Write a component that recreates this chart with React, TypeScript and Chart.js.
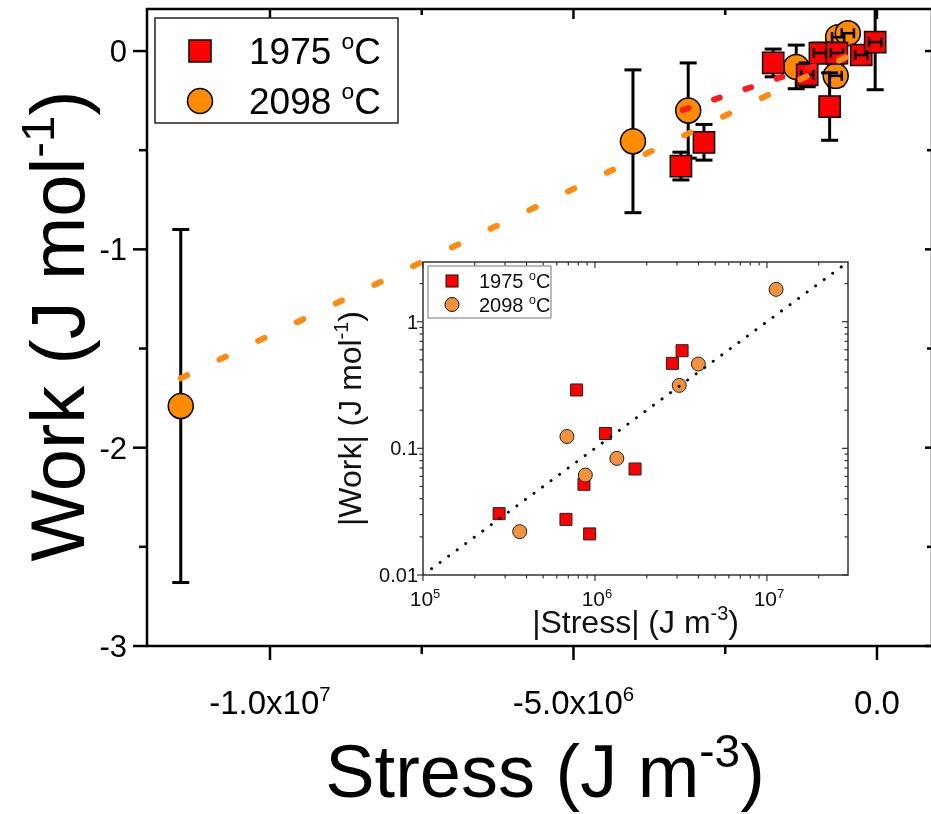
import React, { useEffect, useRef } from 'react';
import { Chart, registerables } from 'chart.js';
Chart.register(...registerables);

const FONT = '"Liberation Sans", Arial, Helvetica, sans-serif';

// ---------- main plot data ----------
const red1975Stress = [-3.23e6, -2.85e6, -1.71e6, -1.15e6, -0.94e6, -0.66e6, -0.78e6, -0.26e6, -0.03e6];
const red1975Work = [-0.58, -0.46, -0.06, -0.12, -0.01, -0.01, -0.28, -0.02, 0.045];
const red1975ErrY = [0.07, 0.09, 0.07, 0.06, 0.05, 0.05, 0.17, 0.04, 0.24];
const red1975ErrX = [0, 0, 0, 0.1e6, 0.1e6, 0.1e6, 0, 0.1e6, 0.1e6];

const orange2098Stress = [-1.147e7, -4.02e6, -3.11e6, -1.33e6, -0.68e6, -0.64e6, -0.48e6];
const orange2098Work = [-1.79, -0.455, -0.3, -0.08, -0.125, 0.07, 0.09];
const orange2098ErrY = [0.89, 0.36, 0.24, 0.11, 0.05, 0.04, 0.04];
const orange2098ErrX = [0, 0, 0, 0, 0.1e6, 0.1e6, 0.1e6];

// linear fits (end points)
const fit2098Stress = [-1.147e7, -0.35e6];
const fit2098Work = [-1.65, -0.008];
const fit1975Stress = [-3.2e6, -0.35e6];
const fit1975Work = [-0.297, -0.007];

const mainXMin = -1.2026e7;
const mainXMax = 0.89e6;
const mainYMin = -3;
const mainYMax = 0.212;
const mainXTicks = [-1e7, -5e6, 0];
const mainXTickText = [['-1.0x10', '7'], ['-5.0x10', '6'], ['0.0', '']];
const mainXMinor = [-7.5e6, -2.5e6];
const mainYTicks = [0, -1, -2, -3];
const mainYTickText = ['0', '-1', '-2', '-3'];
const mainYMinor = [-0.5, -1.5, -2.5];
const seriesNames = ['1975 ', '2098 '];

// ---------- inset data ----------
const insetRedStress = [3.21e6, 2.82e6, 7.82e5, 1.15e6, 1.71e6, 8.63e5, 2.77e5, 6.78e5, 9.31e5];
const insetRedWork = [0.59, 0.469, 0.289, 0.131, 0.0687, 0.052, 0.0305, 0.0275, 0.0211];
const insetOrangeStress = [1.13e7, 3.99e6, 3.09e6, 6.87e5, 1.34e6, 8.79e5, 3.65e5];
const insetOrangeWork = [1.8, 0.463, 0.314, 0.124, 0.0833, 0.0615, 0.022];
const insetFitStress = [1e5, 2.96e7];
const insetFitWork = [0.01, 2.96];
const insetXMin = 1e5;
const insetXMax = 2.96e7;
const insetYMin = 0.01;
const insetYMax = 2.96;
const insetXTicks = [1e5, 1e6, 1e7];
const insetXTickExp = ['5', '6', '7'];
const insetYTicks = [0.01, 0.1, 1];
const insetYTickText = ['0.01', '0.1', '1'];

const RED = '#FF0000';
const ORANGE = '#FF8C00';
const ORANGE_INSET = '#F3923C';
const FIT_ORANGE = '#FF8A10';
const FIT_RED = '#FF1A1A';

type Part = { t: string; sup?: boolean };

function richWidth(ctx: CanvasRenderingContext2D, parts: Part[], size: number) {
  let w = 0;
  for (const p of parts) {
    ctx.font = `${p.sup ? size * 0.62 : size}px ${FONT}`;
    w += ctx.measureText(p.t).width;
  }
  return w;
}

function drawRich(
  ctx: CanvasRenderingContext2D,
  parts: Part[],
  x: number,
  y: number,
  size: number,
  align: 'left' | 'center' | 'right',
  color = '#000'
) {
  const w = richWidth(ctx, parts, size);
  let cx = align === 'left' ? x : align === 'center' ? x - w / 2 : x - w;
  ctx.textBaseline = 'alphabetic';
  ctx.textAlign = 'left';
  ctx.fillStyle = color;
  for (const p of parts) {
    const s = p.sup ? size * 0.62 : size;
    ctx.font = `${s}px ${FONT}`;
    ctx.fillText(p.t, cx, p.sup ? y - size * 0.4 : y);
    cx += ctx.measureText(p.t).width;
  }
}

function line(ctx: CanvasRenderingContext2D, x1: number, y1: number, x2: number, y2: number) {
  ctx.beginPath();
  ctx.moveTo(x1, y1);
  ctx.lineTo(x2, y2);
  ctx.stroke();
}

const errorBarPlugin = {
  id: 'errorBars',
  beforeDatasetDraw(chart: any, args: any) {
    const ds: any = chart.data.datasets[args.index];
    if (!ds.errY) return;
    const { ctx, chartArea: a, scales } = chart;
    ctx.save();
    ctx.beginPath();
    ctx.rect(a.left, a.top, a.right - a.left, a.bottom - a.top);
    ctx.clip();
    ctx.strokeStyle = '#000';
    ctx.lineWidth = 3;
    const cap = 8.5;
    ds.data.forEach((p: any, i: number) => {
      const ey = ds.errY[i] || 0;
      if (ey <= 0) return;
      const px = scales.x.getPixelForValue(p.x);
      const t = scales.y.getPixelForValue(p.y + ey);
      const b = scales.y.getPixelForValue(p.y - ey);
      line(ctx, px, t, px, b);
      line(ctx, px - cap, t, px + cap, t);
      line(ctx, px - cap, b, px + cap, b);
    });
    ctx.restore();
  },
  afterDatasetDraw(chart: any, args: any) {
    const ds: any = chart.data.datasets[args.index];
    if (!ds.errX) return;
    const { ctx, chartArea: a, scales } = chart;
    ctx.save();
    ctx.beginPath();
    ctx.rect(a.left, a.top, a.right - a.left, a.bottom - a.top);
    ctx.clip();
    ctx.strokeStyle = '#000';
    ctx.lineWidth = 2.5;
    const cap = 5;
    ds.data.forEach((p: any, i: number) => {
      const ex = ds.errX[i] || 0;
      if (ex <= 0) return;
      const py = scales.y.getPixelForValue(p.y);
      const l = scales.x.getPixelForValue(p.x - ex);
      const r = scales.x.getPixelForValue(p.x + ex);
      line(ctx, l, py, r, py);
      line(ctx, l, py - cap, l, py + cap);
      line(ctx, r, py - cap, r, py + cap);
    });
    ctx.restore();
  },
};

const mainDecor = {
  id: 'mainDecor',
  afterDraw(chart: any) {
    const { ctx, chartArea: a, scales } = chart;
    const xs = scales.x;
    const ys = scales.y;
    ctx.save();
    ctx.strokeStyle = '#000';
    ctx.lineWidth = 2.5;
    ctx.lineCap = 'butt';
    // frame
    ctx.strokeRect(a.left, a.top, a.right + 1 - a.left, a.bottom - a.top);
    // x ticks
    mainXTicks.forEach((v, i) => {
      const px = xs.getPixelForValue(v);
      line(ctx, px, a.bottom, px, a.bottom + 14);
      line(ctx, px, a.top, px, a.top + 10);
      const [base, exp] = mainXTickText[i];
      drawRich(ctx, exp ? [{ t: base }, { t: exp, sup: true }] : [{ t: base }], px, 714, 33, 'center');
    });
    mainXMinor.forEach((v) => {
      const px = xs.getPixelForValue(v);
      line(ctx, px, a.bottom, px, a.bottom + 8);
      line(ctx, px, a.top, px, a.top + 6);
    });
    // y ticks
    mainYTicks.forEach((v, i) => {
      const py = ys.getPixelForValue(v);
      line(ctx, a.left, py, a.left - 14, py);
      line(ctx, a.right, py, a.right - 6, py);
      drawRich(ctx, [{ t: mainYTickText[i] }], a.left - 20, py + 11, 31, 'right');
    });
    mainYMinor.forEach((v) => {
      const py = ys.getPixelForValue(v);
      line(ctx, a.left, py, a.left - 8, py);
      line(ctx, a.right, py, a.right - 4, py);
    });
    // axis titles
    drawRich(ctx, [{ t: 'Stress (J m' }, { t: '-3', sup: true }, { t: ')' }], 545, 797, 74, 'center');
    ctx.save();
    ctx.translate(84, 326);
    ctx.rotate(-Math.PI / 2);
    drawRich(ctx, [{ t: 'Work (J mol' }, { t: '-1', sup: true }, { t: ')' }], 0, 0, 76, 'center');
    ctx.restore();
    // legend
    ctx.fillStyle = '#fff';
    ctx.fillRect(155, 18, 243, 105);
    ctx.lineWidth = 1.5;
    ctx.strokeStyle = '#222';
    ctx.strokeRect(155, 18, 243, 105);
    ctx.fillStyle = RED;
    ctx.fillRect(189, 40, 22, 22);
    ctx.strokeStyle = '#000';
    ctx.strokeRect(189, 40, 22, 22);
    ctx.beginPath();
    ctx.arc(200, 101, 12.5, 0, Math.PI * 2);
    ctx.fillStyle = ORANGE;
    ctx.fill();
    ctx.stroke();
    drawRich(ctx, [{ t: seriesNames[0] }, { t: 'o', sup: true }, { t: 'C' }], 249, 64, 37, 'left');
    drawRich(ctx, [{ t: seriesNames[1] }, { t: 'o', sup: true }, { t: 'C' }], 249, 114, 37, 'left');
    ctx.restore();
  },
};

const insetDecor = {
  id: 'insetDecor',
  afterDraw(chart: any) {
    const { ctx, chartArea: a, scales } = chart;
    const xs = scales.x;
    const ys = scales.y;
    ctx.save();
    ctx.strokeStyle = '#333';
    ctx.lineWidth = 1.5;
    ctx.strokeRect(a.left, a.top, a.right - a.left, a.bottom - a.top);
    ctx.lineWidth = 1.2;
    // x ticks
    insetXTicks.forEach((v, i) => {
      const px = xs.getPixelForValue(v);
      line(ctx, px, a.bottom, px, a.bottom + 6);
      line(ctx, px, a.top, px, a.top + 6);
      drawRich(ctx, [{ t: '10' }, { t: insetXTickExp[i], sup: true }], px + 2, a.bottom + 31, 21, 'center', '#111');
    });
    for (let d = 5; d <= 7; d++) {
      for (let m = 2; m <= 9; m++) {
        const v = m * Math.pow(10, d);
        if (v > insetXMax) break;
        const px = xs.getPixelForValue(v);
        line(ctx, px, a.bottom, px, a.bottom + 3.5);
        line(ctx, px, a.top, px, a.top + 3.5);
      }
    }
    // y ticks
    insetYTicks.forEach((v, i) => {
      const py = ys.getPixelForValue(v);
      line(ctx, a.left, py, a.left - 6, py);
      line(ctx, a.right, py, a.right - 6, py);
      drawRich(ctx, [{ t: insetYTickText[i] }], a.left - 5, py + 7, 20, 'right', '#111');
    });
    for (let d = -2; d <= 0; d++) {
      for (let m = 2; m <= 9; m++) {
        const v = m * Math.pow(10, d);
        if (v > insetYMax) break;
        const py = ys.getPixelForValue(v);
        line(ctx, a.left, py, a.left - 3.5, py);
        line(ctx, a.right, py, a.right - 3.5, py);
      }
    }
    // titles
    const cx = (a.left + a.right) / 2;
    drawRich(ctx, [{ t: '|Stress| (J m' }, { t: '-3', sup: true }, { t: ')' }], cx, a.bottom + 58, 32, 'center', '#111');
    ctx.save();
    ctx.translate(a.left - 62, (a.top + a.bottom) / 2);
    ctx.rotate(-Math.PI / 2);
    drawRich(ctx, [{ t: '|Work| (J mol' }, { t: '-1', sup: true }, { t: ')' }], 0, 0, 32, 'center', '#111');
    ctx.restore();
    // legend
    const lx = a.left + 5;
    const ly = a.top + 4;
    ctx.fillStyle = '#fff';
    ctx.fillRect(lx, ly, 123, 52);
    ctx.strokeStyle = '#777';
    ctx.lineWidth = 1;
    ctx.strokeRect(lx, ly, 123, 52);
    ctx.fillStyle = RED;
    ctx.fillRect(lx + 18, ly + 9, 12, 12);
    ctx.strokeStyle = '#111';
    ctx.strokeRect(lx + 18, ly + 9, 12, 12);
    ctx.beginPath();
    ctx.arc(lx + 24, ly + 38.5, 7, 0, Math.PI * 2);
    ctx.fillStyle = ORANGE_INSET;
    ctx.fill();
    ctx.stroke();
    drawRich(ctx, [{ t: seriesNames[0] }, { t: 'o', sup: true }, { t: 'C' }], lx + 51, ly + 22, 20, 'left', '#111');
    drawRich(ctx, [{ t: seriesNames[1] }, { t: 'o', sup: true }, { t: 'C' }], lx + 51, ly + 46, 20, 'left', '#111');
    ctx.restore();
  },
};

const toXY = (xs: number[], ys: number[]) => xs.map((x, i) => ({ x, y: ys[i] }));

const INSET_L = 330;
const INSET_T = 250;
const INSET_W = 540;
const INSET_H = 400;

export default function App() {
  const mainRef = useRef<HTMLCanvasElement>(null);
  const insetRef = useRef<HTMLCanvasElement>(null);

  useEffect(() => {
    const main = new Chart(mainRef.current as HTMLCanvasElement, {
      type: 'scatter',
      data: {
        datasets: [
          {
            label: 'fit 2098',
            data: toXY(fit2098Stress, fit2098Work),
            showLine: true,
            pointRadius: 0,
            borderColor: FIT_ORANGE,
            borderWidth: 6,
            borderDash: [7, 36],
            borderCapStyle: 'round',
            order: 0,
          } as any,
          {
            label: 'fit 1975',
            data: toXY(fit1975Stress, fit1975Work),
            showLine: true,
            pointRadius: 0,
            borderColor: FIT_RED,
            borderWidth: 6,
            borderDash: [6, 27],
            borderCapStyle: 'round',
            order: 0,
          } as any,
          {
            label: '1975 °C',
            data: toXY(red1975Stress, red1975Work),
            pointStyle: 'rect',
            pointRadius: 15,
            pointBackgroundColor: RED,
            pointBorderColor: '#000',
            pointBorderWidth: 1.5,
            errY: red1975ErrY,
            errX: red1975ErrX,
            order: 1,
          } as any,
          {
            label: '2098 °C',
            data: toXY(orange2098Stress, orange2098Work),
            pointStyle: 'circle',
            pointRadius: 12.5,
            pointBackgroundColor: ORANGE,
            pointBorderColor: '#000',
            pointBorderWidth: 1.5,
            errY: orange2098ErrY,
            errX: orange2098ErrX,
            order: 2,
          } as any,
        ],
      },
      options: {
        responsive: false,
        animation: false,
        devicePixelRatio: 1,
        layout: { autoPadding: false, padding: { left: 147, top: 9, right: 0, bottom: 168 } },
        plugins: { legend: { display: false }, tooltip: { enabled: false } },
        scales: {
          x: { type: 'linear', min: mainXMin, max: mainXMax, display: false },
          y: { type: 'linear', min: mainYMin, max: mainYMax, display: false },
        },
      } as any,
      plugins: [errorBarPlugin, mainDecor],
    });

    const inset = new Chart(insetRef.current as HTMLCanvasElement, {
      type: 'scatter',
      data: {
        datasets: [
          {
            label: 'fit',
            data: toXY(insetFitStress, insetFitWork),
            showLine: true,
            pointRadius: 0,
            borderColor: '#111',
            borderWidth: 3,
            borderDash: [0.1, 10.5],
            borderCapStyle: 'round',
            order: 0,
          } as any,
          {
            label: '2098 °C',
            data: toXY(insetOrangeStress, insetOrangeWork),
            pointStyle: 'circle',
            pointRadius: 7,
            pointBackgroundColor: ORANGE_INSET,
            pointBorderColor: '#222',
            pointBorderWidth: 1,
            order: 1,
          } as any,
          {
            label: '1975 °C',
            data: toXY(insetRedStress, insetRedWork),
            pointStyle: 'rect',
            pointRadius: 8.5,
            pointBackgroundColor: RED,
            pointBorderColor: '#222',
            pointBorderWidth: 1,
            order: 2,
          } as any,
        ],
      },
      options: {
        responsive: false,
        animation: false,
        devicePixelRatio: 1,
        layout: { autoPadding: false, padding: { left: 93, top: 12, right: 22, bottom: 75 } },
        plugins: { legend: { display: false }, tooltip: { enabled: false } },
        scales: {
          x: { type: 'logarithmic', min: insetXMin, max: insetXMax, display: false },
          y: { type: 'logarithmic', min: insetYMin, max: insetYMax, display: false },
        },
      } as any,
      plugins: [insetDecor],
    });

    return () => {
      main.destroy();
      inset.destroy();
    };
  }, []);

  return (
    <div style={{ position: 'absolute', left: 0, top: 0, width: 931, height: 814, background: '#fff', overflow: 'hidden' }}>
      <canvas ref={mainRef} width={931} height={814} style={{ position: 'absolute', left: 0, top: 0 }} />
      <canvas
        ref={insetRef}
        width={INSET_W}
        height={INSET_H}
        style={{ position: 'absolute', left: INSET_L, top: INSET_T }}
      />
    </div>
  );
}
